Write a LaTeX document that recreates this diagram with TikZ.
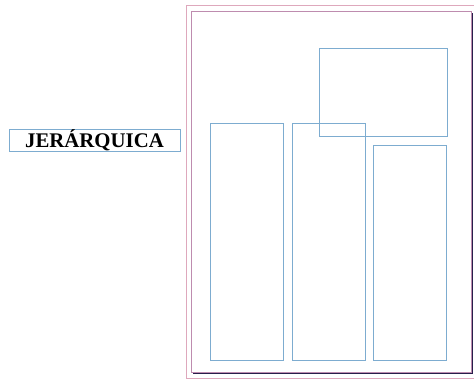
\documentclass[tikz,border=0pt]{standalone}
\usepackage{fontspec}
\setmainfont{Liberation Serif}
\usepackage{tikz}

\definecolor{marcoazul}{RGB}{125,172,208}
\definecolor{bordeRosa}{RGB}{222,168,188}
\definecolor{bordePagina}{RGB}{190,140,175}
\definecolor{sombra}{RGB}{40,30,75}

\begin{document}
\begin{tikzpicture}[x=1pt, y=-1pt, line width=0.8pt,
    marco/.style={draw=marcoazul},
    etiqueta/.style={draw=marcoazul, inner sep=0pt, minimum width=171pt, minimum height=17.5pt,
      font=\fontsize{20.8}{21}\selectfont\bfseries}]
  \useasboundingbox (0,0) rectangle (474,379);
  % title of the layout
  \node[etiqueta] (titulo) at (94.5,140.5) {JERÁRQUICA};
  % pasteboard edge and page with its shadow
  \draw[bordeRosa] (474,5) -- (186,5) -- (186,378) -- (474,378);
  \fill[sombra] (193,13.5) rectangle (472.5,373.5);
  \draw[bordePagina, fill=white] (191.5,11.5) rectangle (471,372);
  % three columns
  \foreach \x/\y/\h in {210/123/237, 292/123/237, 373.3/145/215}
    \draw[marco] (\x,\y) rectangle ++(73.5,\h);
  % upper block over the columns
  \draw[marco] (319,48) rectangle (447,136);
\end{tikzpicture}
\end{document}
